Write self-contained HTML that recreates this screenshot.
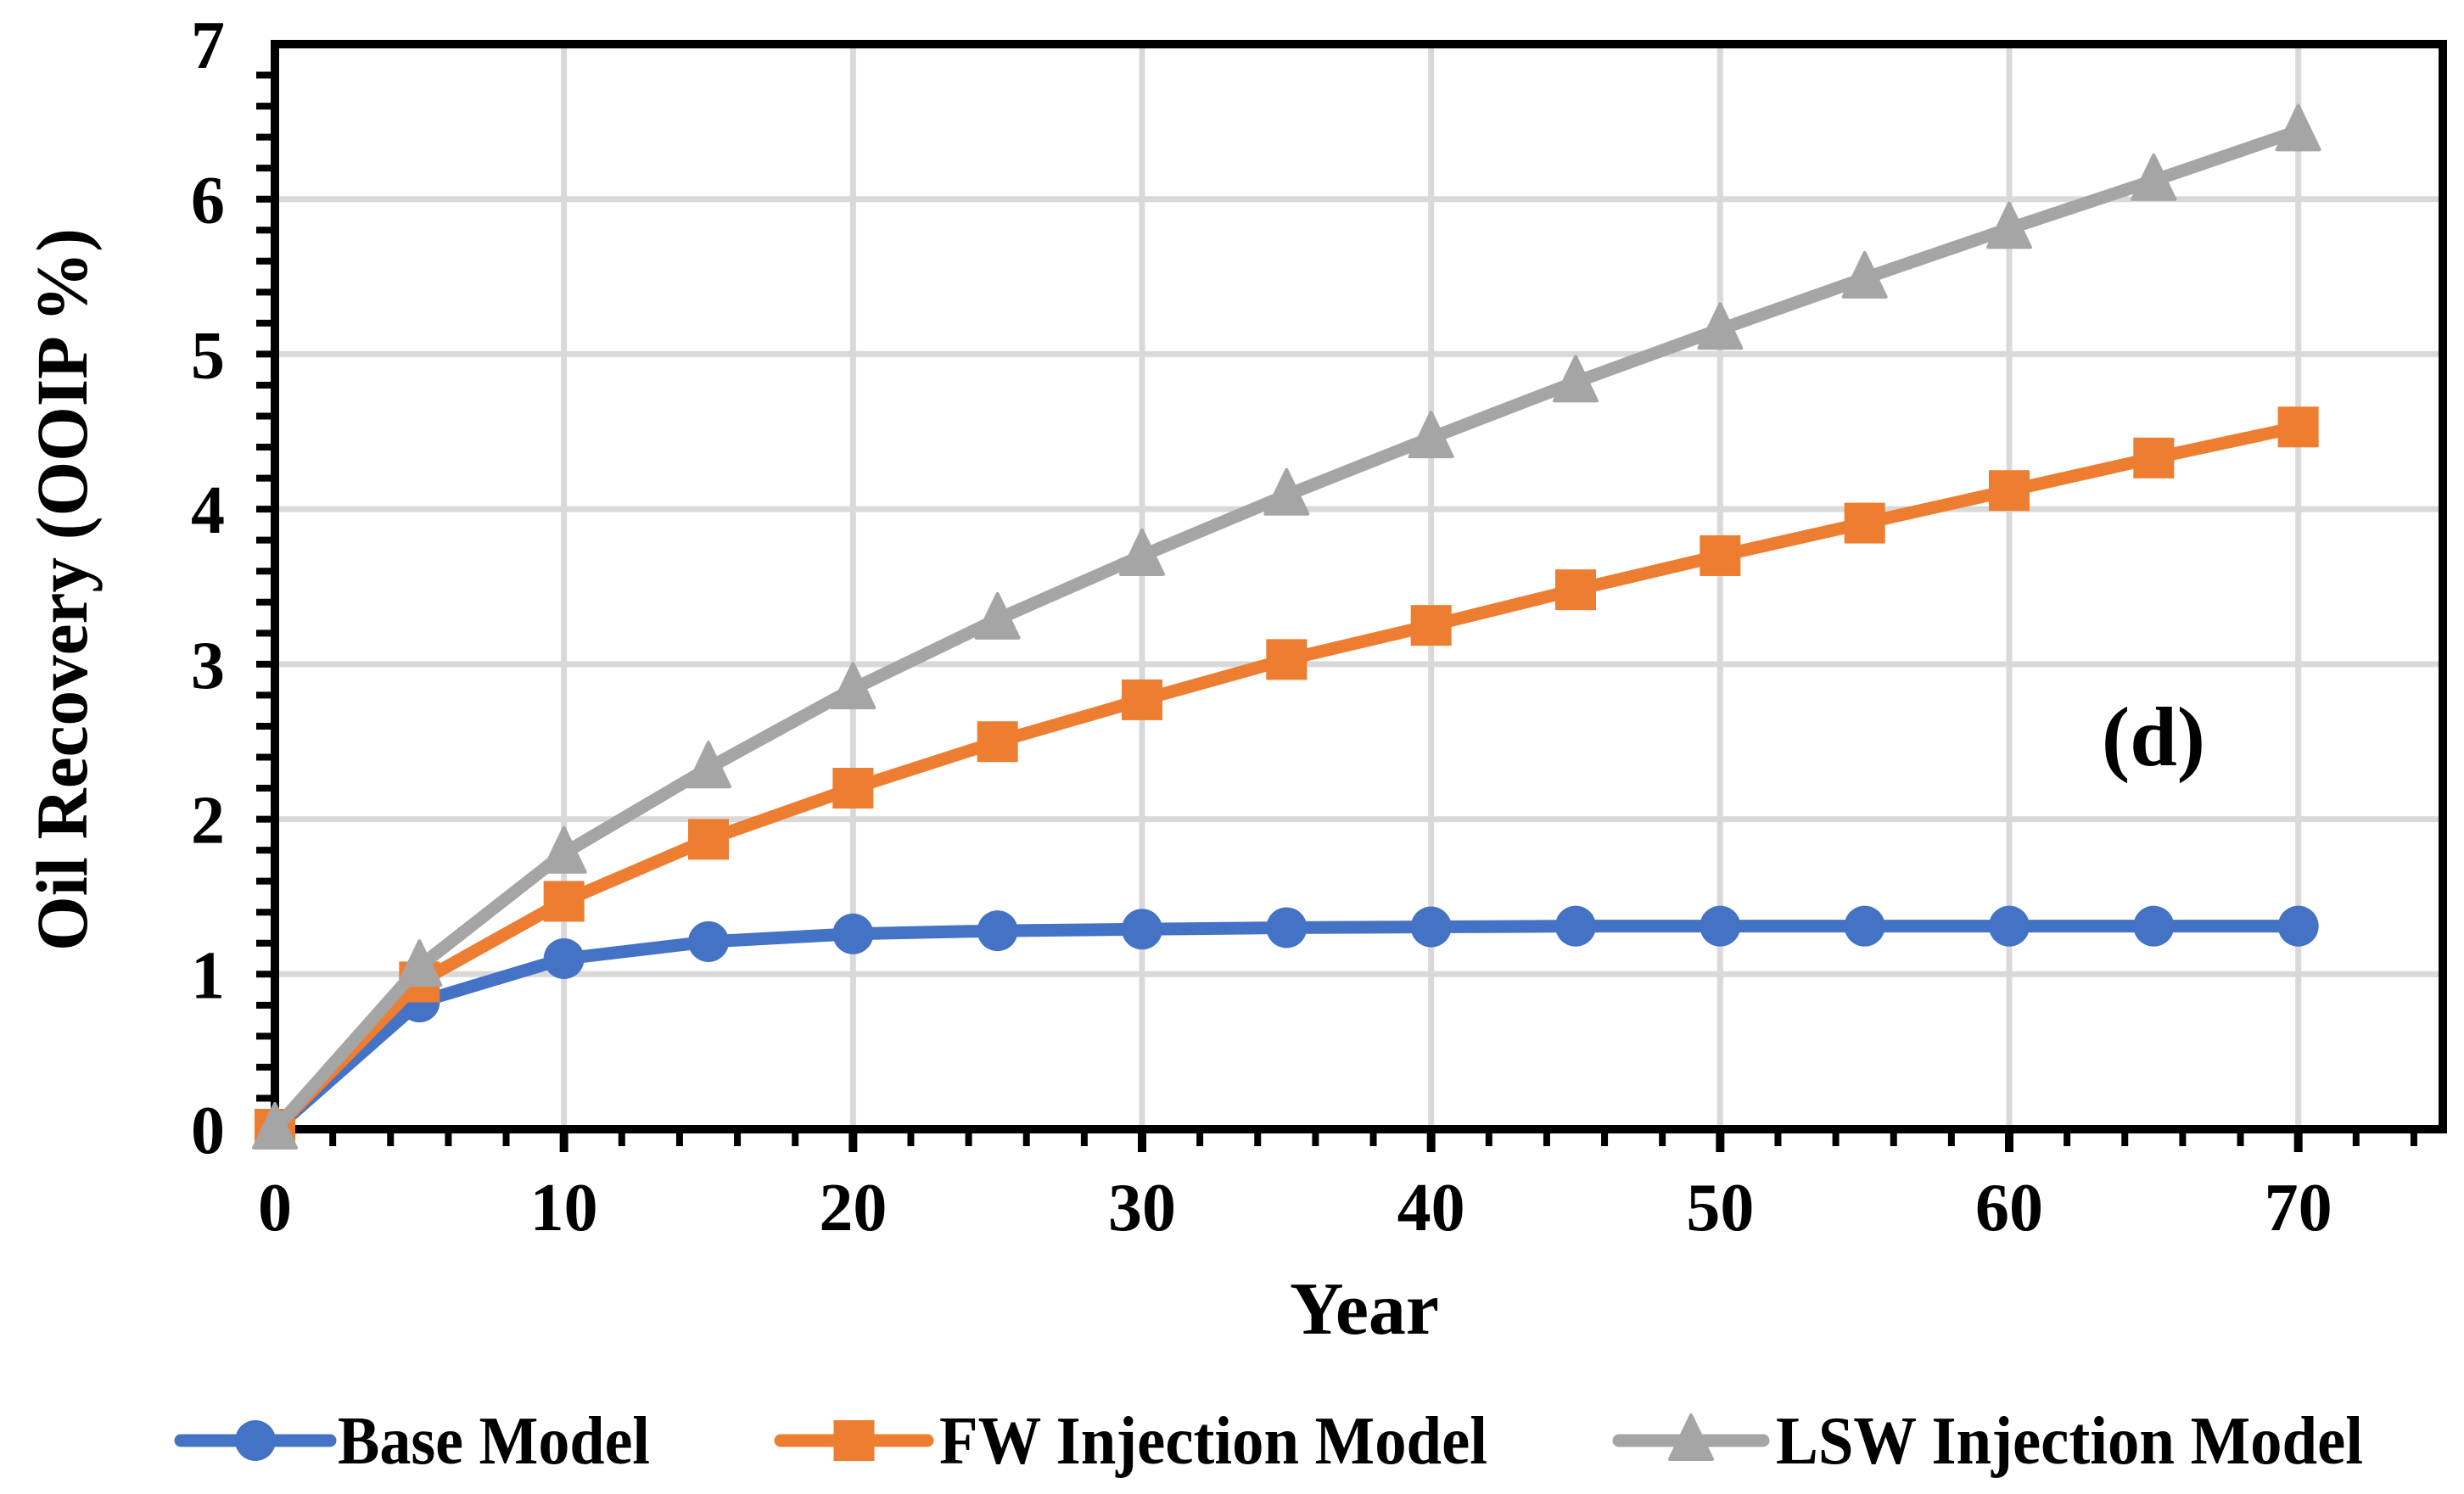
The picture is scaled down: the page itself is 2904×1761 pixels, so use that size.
<!DOCTYPE html>
<html><head><meta charset="utf-8"><style>
html,body{margin:0;padding:0;background:#fff}
svg{display:block}
text{font-family:"Liberation Serif",serif;font-weight:bold;fill:#000}
</style></head><body>
<svg id="chart" width="2904" height="1761" viewBox="0 0 2904 1761" xmlns="http://www.w3.org/2000/svg">
<g id="grid"></g>
<g id="axes"></g>
<g id="series"></g>
<text x="2538" y="902" font-size="100" text-anchor="middle">(d)</text>
<text x="1608" y="1572" font-size="88" text-anchor="middle">Year</text>
<text transform="translate(102,695) rotate(-90)" font-size="86" text-anchor="middle" textLength="852" lengthAdjust="spacingAndGlyphs">Oil Recovery (OOIP %)</text>
<g id="legend"></g>
</svg>
<script>
const years = [0,5,10,15,20,25,30,35,40,45,50,55,60,65,70];
const baseModel = [0,0.82,1.10,1.21,1.26,1.28,1.29,1.30,1.305,1.31,1.31,1.31,1.31,1.31,1.31];
const fwModel = [0,0.95,1.47,1.87,2.20,2.50,2.77,3.03,3.25,3.48,3.70,3.91,4.12,4.33,4.53];
const lswModel = [0,1.05,1.78,2.33,2.84,3.29,3.70,4.09,4.46,4.82,5.16,5.49,5.81,6.12,6.44];
const xTicks = [0,10,20,30,40,50,60,70];
const yTicks = [0,1,2,3,4,5,6,7];

const NS = "http://www.w3.org/2000/svg";
const X0=324, X1=2879, Y0=1331, Y1=52, XMAX=75, YMAX=7;
const sx = v => X0 + (X1-X0)*v/XMAX;
const sy = v => Y0 - (Y0-Y1)*v/YMAX;
function mk(tag, attrs, parent){const e=document.createElementNS(NS,tag);for(const k in attrs)e.setAttribute(k,attrs[k]);parent.appendChild(e);return e;}
const grid=document.getElementById('grid'), axes=document.getElementById('axes'), series=document.getElementById('series'), legend=document.getElementById('legend');

yTicks.forEach(v=>{
  if(v>0 && v<YMAX){const l=mk('line',{x1:X0,x2:X1,y1:sy(v),y2:sy(v),stroke:'#d9d9d9','stroke-width':7},grid);
  
  }
  const t=mk('text',{x:265,y:sy(v)+28,'font-size':80,'text-anchor':'end'},axes);t.textContent=v;
  
  
});
xTicks.forEach(v=>{
  if(v>0){const l=mk('line',{x1:sx(v),x2:sx(v),y1:Y0,y2:Y1,stroke:'#d9d9d9','stroke-width':7},grid);
  
  }
  const t=mk('text',{x:sx(v),y:1450,'font-size':80,'text-anchor':'middle'},axes);t.textContent=v;
  
  
});
for(let i=1;i<35;i++){const v=i*0.2;const l=mk('line',{x1:X0-22,x2:X0,y1:sy(v),y2:sy(v),stroke:'#000','stroke-width':8},axes);
  
  }
for(let v=2;v<=74;v+=2){const major=v%10===0;const l=mk('line',{x1:sx(v),x2:sx(v),y1:Y0,y2:Y0+(major?27:20),stroke:'#000','stroke-width':major?10:8},axes);
  
  }
const frame=mk('rect',{x:X0,y:Y1,width:X1-X0,height:Y0-Y1,fill:'none',stroke:'#000','stroke-width':10},axes);



function marker(type,cx,cy,color,parent){
  let m;
  if(type==='circle') m=mk('circle',{cx:cx,cy:cy,r:24,fill:color},parent);
  else if(type==='square') m=mk('rect',{x:cx-24,y:cy-24,width:48,height:48,fill:color},parent);
  else m=mk('polygon',{points:`${cx},${cy-30} ${cx+25},${cy+22} ${cx-25},${cy+22}`,fill:color,'stroke':color,'stroke-width':4,'stroke-linejoin':'round'},parent);
  return m;
}
const defs=[
  {vals:baseModel,color:'#4472c4',m:'circle',name:'base-model',label:'Base Model',lx1:213,lx2:389,tx:398,tw:368},
  {vals:fwModel,color:'#ed7d31',m:'square',name:'fw-injection-model',label:'FW Injection Model',lx1:920,lx2:1093,tx:1107,tw:646},
  {vals:lswModel,color:'#a5a5a5',m:'triangle',name:'lsw-injection-model',label:'LSW Injection Model',lx1:1908,lx2:2078,tx:2093,tw:692}
];
defs.forEach(d=>{
  const g=mk('g',{},series);
  
  
  const pl=mk('polyline',{points:years.map((x,i)=>sx(x)+','+sy(d.vals[i])).join(' '),fill:'none',stroke:d.color,'stroke-width':15,'stroke-linejoin':'round','stroke-linecap':'round'},g);
  
  
  years.forEach((x,i)=>{const m=marker(d.m,sx(x),sy(d.vals[i]),d.color,g);
    
    });
  const lg=mk('g',{},legend);
  
  
  const ly=1698;
  mk('line',{x1:d.lx1,x2:d.lx2,y1:ly,y2:ly,stroke:d.color,'stroke-width':15,'stroke-linecap':'round'},lg);
  marker(d.m,(d.lx1+d.lx2)/2,ly,d.color,lg);
  const t=mk('text',{x:d.tx,y:ly+27,'font-size':80,textLength:d.tw,lengthAdjust:'spacingAndGlyphs'},lg);
  t.textContent=d.label;
  
  
});
</script>
</body></html>
